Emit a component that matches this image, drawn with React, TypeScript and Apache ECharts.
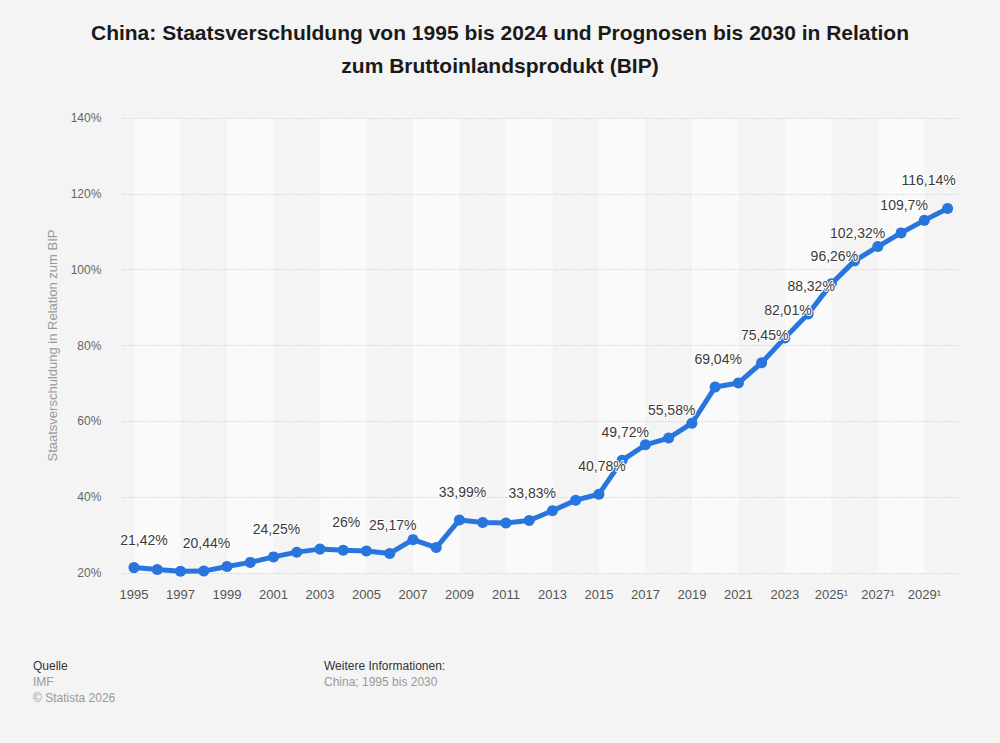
import React, { useEffect, useRef } from "react";
import * as echarts from "echarts";

// Jahre und Schuldenquote (% des BIP); ab 2025 Prognosen
const years = [
  "1995", "1996", "1997", "1998", "1999", "2000", "2001", "2002", "2003", "2004",
  "2005", "2006", "2007", "2008", "2009", "2010", "2011", "2012", "2013", "2014",
  "2015", "2016", "2017", "2018", "2019", "2020", "2021", "2022", "2023", "2024",
  "2025", "2026", "2027", "2028", "2029", "2030",
];
const debtRatio = [
  21.42, 20.9, 20.44, 20.5, 21.7, 22.8, 24.25, 25.5, 26.3, 26,
  25.8, 25.17, 28.8, 26.7, 33.99, 33.3, 33.2, 33.83, 36.4, 39.2,
  40.78, 49.72, 53.8, 55.58, 59.5, 69.04, 70.1, 75.45, 82.01, 88.32,
  96.26, 102.32, 106.1, 109.7, 113.0, 116.14,
];
// Jahre, deren Wert direkt am Punkt beschriftet ist
const labeledYears = [
  "1995", "1997", "2001", "2004", "2006", "2009", "2012", "2015", "2016", "2018",
  "2020", "2022", "2023", "2024", "2025", "2026", "2028", "2030",
];
const forecastFrom = 2025;
const yTicks = { min: 20, max: 140, interval: 20 };

const FONT = "'Liberation Sans', Arial, Helvetica, sans-serif";
const BLUE = "#2876dd";

const fmt = (v: number) => String(v).replace(".", ",") + "%";

// horizontale Verschiebung einzelner Beschriftungen, damit sie sich nicht überlappen
const labelShift: Record<string, number> = { "1995": 10, "1997": 26, "2030": -19 };

export default function App() {
  const ref = useRef<HTMLDivElement>(null);

  useEffect(() => {
    document.body.style.margin = "0";
    if (!ref.current) return;
    const chart = echarts.init(ref.current, undefined, { renderer: "svg" });

    // helle Streifen über je zwei Jahre (1995–1997, 1999–2001, ...)
    const bands: any[] = [];
    for (let i = 0; i + 2 < years.length; i += 4) {
      bands.push([{ xAxis: years[i] }, { xAxis: years[i + 2] }]);
    }

    const seriesData = debtRatio.map((v, i) => {
      const y = years[i];
      const show = labeledYears.includes(y);
      const dx = labelShift[y] ?? 3;
      return { value: v, label: { show, offset: [dx, 0] } };
    });

    chart.setOption({
      animation: false,
      backgroundColor: "#f4f4f4",
      textStyle: { fontFamily: FONT },
      title: {
        text:
          "China: Staatsverschuldung von 1995 bis 2024 und Prognosen bis 2030 in Relation\nzum Bruttoinlandsprodukt (BIP)",
        left: "center",
        top: 11,
        textStyle: {
          fontFamily: FONT,
          fontSize: 21,
          fontWeight: "bold",
          color: "#1a1a1a",
          lineHeight: 33,
        },
      },
      grid: { left: 122.4, right: 40.8, top: 118, bottom: 170, containLabel: false },
      xAxis: {
        type: "category",
        data: years,
        boundaryGap: true,
        axisLine: { show: false },
        axisTick: { show: false },
        axisLabel: {
          interval: 1,
          margin: 15,
          fontSize: 13,
          color: "#555",
          fontFamily: FONT,
          formatter: (y: string) => (Number(y) >= forecastFrom ? y + "¹" : y),
        },
        splitLine: { show: false },
      },
      yAxis: {
        type: "value",
        min: yTicks.min,
        max: yTicks.max,
        interval: yTicks.interval,
        name: "Staatsverschuldung in Relation zum BIP",
        nameLocation: "middle",
        nameGap: 63,
        nameTextStyle: { color: "#999", fontSize: 13, fontFamily: FONT },
        axisLine: { show: false },
        axisTick: { show: false },
        axisLabel: {
          margin: 21,
          fontSize: 12,
          color: "#666",
          fontFamily: FONT,
          formatter: "{value}%",
        },
        splitLine: { lineStyle: { color: "#c4c4c4", type: [1, 2], width: 1 } },
      },
      series: [
        {
          type: "line",
          data: seriesData,
          symbol: "circle",
          symbolSize: 11,
          lineStyle: { color: BLUE, width: 5 },
          itemStyle: { color: BLUE },
          label: {
            position: "top",
            distance: 15.5,
            formatter: (p: any) => fmt(p.value),
            fontSize: 14,
            color: "#3a3a3a",
            fontFamily: FONT,
            textBorderColor: "#fff",
            textBorderWidth: 2,
          },
          markArea: {
            silent: true,
            z: -1,
            itemStyle: { color: "#fafafa" },
            data: bands,
          },
        },
      ],
      graphic: [
        { type: "text", left: 33, top: 660, style: { text: "Quelle", fontSize: 12, fill: "#333", fontFamily: FONT } },
        { type: "text", left: 33, top: 676, style: { text: "IMF", fontSize: 12, fill: "#999", fontFamily: FONT } },
        { type: "text", left: 33, top: 692, style: { text: "© Statista 2026", fontSize: 12, fill: "#999", fontFamily: FONT } },
        { type: "text", left: 324, top: 660, style: { text: "Weitere Informationen:", fontSize: 12, fill: "#333", fontFamily: FONT } },
        { type: "text", left: 324, top: 676, style: { text: "China; 1995 bis 2030", fontSize: 12, fill: "#999", fontFamily: FONT } },
      ],
    });

    return () => chart.dispose();
  }, []);

  return <div ref={ref} style={{ width: 1000, height: 743 }} />;
}
